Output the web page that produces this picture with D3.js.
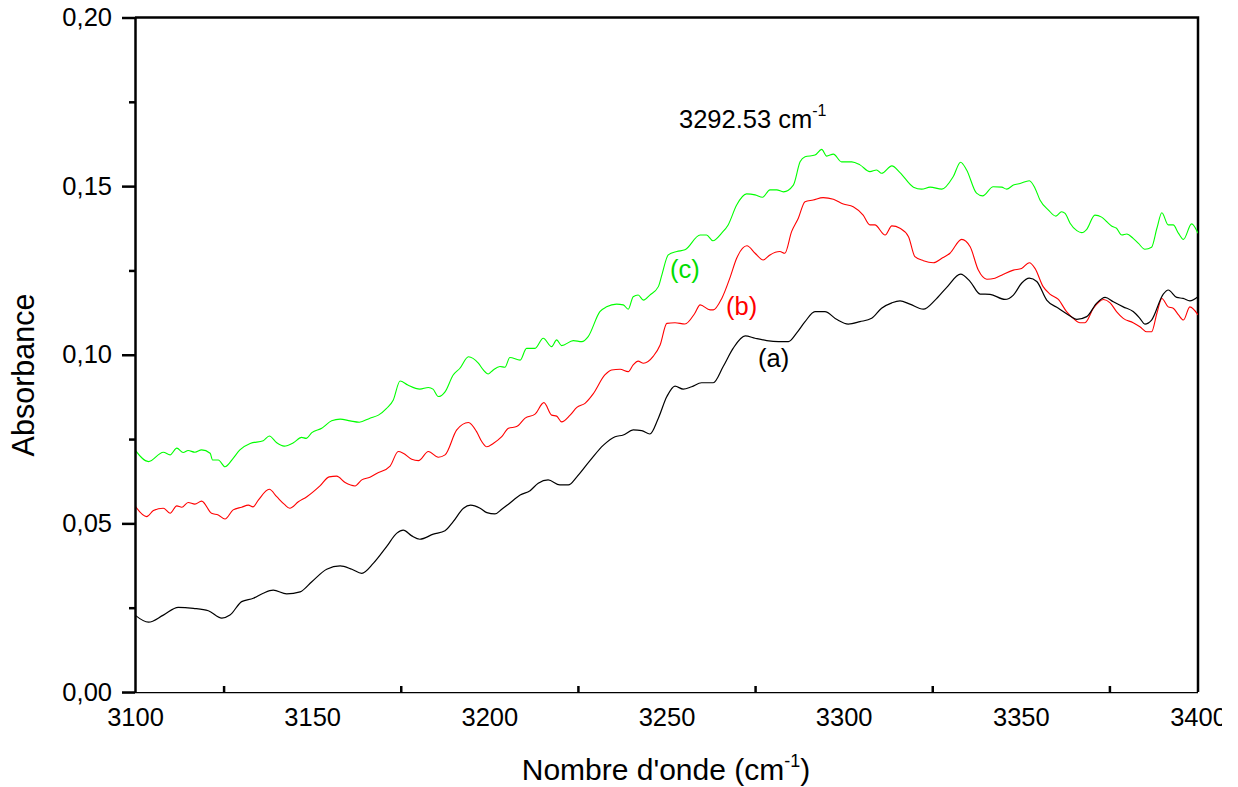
<!DOCTYPE html>
<html>
<head>
<meta charset="utf-8">
<script src="https://cdn.jsdelivr.net/npm/d3@7"></script>
<style>
  html, body { margin: 0; padding: 0; background: #fff; }
  svg { display: block; font-family: "Liberation Sans", Arial, sans-serif; }
</style>
</head>
<body>
<svg id="chart" width="1238" height="787"></svg>
<script>
// ---- Data ----
const xTicks = [3100, 3150, 3200, 3250, 3300, 3350, 3400];
const yTicks = [0, 0.05, 0.10, 0.15, 0.20];
const yTickLabels = ["0,00", "0,05", "0,10", "0,15", "0,20"];

// (a) black
const waveA = [3100.0,3103.8,3108.0,3112.2,3116.5,3120.7,3124.5,3126.8,3130.1,3133.4,3136.2,3139.0,3142.8,3146.6,3149.9,3154.1,3157.9,3161.2,3164.0,3167.3,3171.0,3173.9,3175.7,3178.1,3180.4,3184.2,3187.5,3189.8,3192.7,3194.7,3197.4,3199.3,3201.6,3203.5,3205.4,3208.7,3211.5,3213.8,3216.6,3219.9,3222.3,3224.7,3228.4,3232.2,3235.5,3237.8,3240.6,3243.0,3245.3,3247.7,3250.1,3252.4,3254.7,3257.1,3259.9,3263.2,3266.0,3268.8,3272.2,3275.0,3278.3,3281.6,3284.4,3286.7,3289.1,3291.9,3294.7,3298.0,3301.3,3304.6,3307.9,3310.7,3313.6,3315.9,3318.7,3322.5,3325.8,3329.1,3333.0,3335.7,3338.5,3341.3,3345.5,3347.9,3350.2,3352.4,3354.5,3357.3,3360.6,3363.9,3365.8,3368.6,3371.4,3373.8,3376.1,3378.9,3381.7,3383.6,3385.0,3386.9,3390.2,3391.6,3394.0,3395.8,3397.7,3400.0];
const absA = [0.0228,0.0207,0.0228,0.0251,0.0248,0.0241,0.0219,0.0228,0.0268,0.0278,0.0293,0.0302,0.0291,0.0297,0.0327,0.0364,0.0374,0.0364,0.0352,0.0382,0.0431,0.0471,0.0480,0.0463,0.0453,0.0468,0.0478,0.0505,0.0545,0.0554,0.0545,0.0532,0.0528,0.0542,0.0557,0.0584,0.0597,0.0619,0.0629,0.0614,0.0614,0.0638,0.0686,0.0732,0.0757,0.0762,0.0777,0.0775,0.0765,0.0812,0.0876,0.0907,0.0898,0.0905,0.0917,0.0917,0.0965,0.1019,0.1056,0.1049,0.1042,0.1039,0.1039,0.1064,0.1098,0.1128,0.1128,0.1105,0.1091,0.1098,0.1108,0.1138,0.1154,0.1160,0.1150,0.1135,0.1162,0.1200,0.1239,0.1217,0.1180,0.1179,0.1164,0.1177,0.1212,0.1227,0.1217,0.1162,0.1138,0.1115,0.1105,0.1113,0.1153,0.1170,0.1157,0.1142,0.1128,0.1108,0.1091,0.1103,0.1180,0.1192,0.1170,0.1167,0.1160,0.1172];

// (b) red
const waveB = [3100.0,3103.3,3105.2,3108.0,3109.9,3111.8,3113.2,3115.0,3116.9,3118.8,3121.6,3123.5,3125.4,3127.7,3130.1,3132.0,3133.3,3134.8,3137.9,3140.0,3142.1,3143.7,3146.1,3148.5,3152.2,3154.8,3156.9,3159.3,3162.1,3164.0,3166.3,3168.2,3172.0,3174.3,3175.7,3178.1,3180.0,3182.8,3185.6,3187.5,3190.8,3194.1,3196.4,3197.9,3199.3,3201.1,3203.5,3205.4,3207.7,3210.1,3212.9,3215.4,3217.6,3219.0,3220.4,3222.8,3224.7,3227.0,3229.3,3232.6,3234.5,3236.9,3239.2,3240.6,3242.0,3243.5,3246.3,3248.2,3250.1,3252.4,3255.2,3258.0,3259.5,3262.3,3263.2,3265.6,3268.0,3269.8,3272.7,3275.0,3277.3,3279.2,3282.0,3283.4,3285.3,3287.2,3289.1,3291.4,3294.2,3297.1,3299.9,3302.7,3305.5,3307.4,3308.8,3311.7,3313.6,3315.9,3318.3,3320.1,3322.5,3325.3,3327.7,3330.0,3333.3,3335.7,3338.0,3340.4,3342.7,3345.1,3347.9,3350.2,3352.4,3354.0,3356.3,3358.2,3360.6,3362.9,3364.8,3366.7,3368.1,3370.5,3373.3,3375.2,3377.0,3378.9,3381.7,3383.6,3385.5,3386.9,3388.4,3389.8,3391.6,3393.0,3394.5,3395.9,3397.7,3400.0];
const absB = [0.0552,0.0520,0.0538,0.0545,0.0530,0.0552,0.0548,0.0562,0.0557,0.0566,0.0530,0.0525,0.0513,0.0540,0.0548,0.0554,0.0549,0.0569,0.0601,0.0579,0.0557,0.0545,0.0564,0.0579,0.0611,0.0638,0.0640,0.0621,0.0611,0.0629,0.0637,0.0648,0.0670,0.0713,0.0708,0.0690,0.0686,0.0713,0.0696,0.0703,0.0777,0.0799,0.0772,0.0742,0.0727,0.0737,0.0757,0.0782,0.0787,0.0812,0.0824,0.0858,0.0821,0.0818,0.0801,0.0821,0.0844,0.0856,0.0884,0.0940,0.0955,0.0957,0.0950,0.0970,0.0981,0.0975,0.0996,0.1029,0.1093,0.1095,0.1091,0.1123,0.1148,0.1133,0.1133,0.1167,0.1231,0.1286,0.1323,0.1301,0.1281,0.1296,0.1306,0.1301,0.1365,0.1405,0.1454,0.1459,0.1466,0.1461,0.1447,0.1439,0.1414,0.1385,0.1385,0.1355,0.1382,0.1375,0.1350,0.1291,0.1279,0.1273,0.1286,0.1301,0.1342,0.1320,0.1251,0.1224,0.1227,0.1239,0.1251,0.1256,0.1273,0.1256,0.1202,0.1180,0.1164,0.1128,0.1108,0.1095,0.1095,0.1138,0.1164,0.1154,0.1128,0.1108,0.1095,0.1083,0.1068,0.1068,0.1123,0.1167,0.1142,0.1138,0.1118,0.1103,0.1142,0.1118];

// (c) green
const waveC = [3100.0,3103.8,3108.0,3109.9,3111.8,3113.6,3115.0,3116.9,3118.8,3121.2,3121.9,3123.5,3125.4,3127.7,3129.6,3132.5,3136.2,3137.9,3140.0,3142.1,3144.7,3147.0,3148.3,3149.9,3152.7,3155.5,3157.9,3160.7,3163.3,3166.3,3168.7,3171.0,3172.9,3174.8,3177.0,3180.4,3182.8,3184.1,3185.6,3187.5,3189.8,3191.7,3194.1,3196.9,3198.3,3199.7,3201.1,3203.0,3204.4,3205.8,3208.7,3210.5,3212.9,3215.2,3217.6,3219.0,3220.4,3223.7,3226.1,3227.9,3231.2,3233.1,3235.9,3237.8,3239.2,3240.6,3242.0,3243.5,3245.3,3247.7,3248.7,3250.5,3252.9,3255.2,3259.5,3261.3,3263.1,3265.5,3267.4,3269.8,3272.6,3275.0,3277.1,3279.2,3281.1,3283.0,3285.8,3287.7,3289.1,3291.9,3293.8,3295.2,3297.1,3299.4,3302.3,3304.6,3307.4,3309.3,3310.7,3313.6,3315.9,3319.7,3322.0,3324.4,3327.7,3330.9,3333.0,3334.7,3337.5,3339.2,3342.2,3344.6,3346.0,3347.9,3349.8,3352.4,3354.0,3355.4,3357.8,3359.9,3361.5,3362.5,3363.9,3365.8,3367.2,3368.6,3370.9,3372.8,3374.2,3375.6,3377.0,3378.5,3379.9,3381.7,3383.2,3385.0,3386.9,3388.4,3389.8,3391.6,3393.0,3394.5,3395.9,3398.2,3400.0];
const absC = [0.0718,0.0683,0.0711,0.0703,0.0723,0.0710,0.0716,0.0711,0.0718,0.0708,0.0688,0.0688,0.0668,0.0693,0.0718,0.0737,0.0745,0.0759,0.0739,0.0729,0.0739,0.0755,0.0752,0.0769,0.0782,0.0804,0.0809,0.0804,0.0800,0.0812,0.0821,0.0841,0.0866,0.0922,0.0910,0.0898,0.0903,0.0898,0.0876,0.0890,0.0940,0.0960,0.0994,0.0975,0.0955,0.0943,0.0955,0.0965,0.0963,0.0992,0.0984,0.1019,0.1019,0.1049,0.1024,0.1044,0.1027,0.1042,0.1039,0.1054,0.1128,0.1142,0.1150,0.1148,0.1135,0.1172,0.1177,0.1162,0.1177,0.1202,0.1237,0.1296,0.1306,0.1311,0.1355,0.1355,0.1338,0.1360,0.1385,0.1444,0.1477,0.1474,0.1467,0.1489,0.1489,0.1483,0.1503,0.1572,0.1587,0.1592,0.1609,0.1589,0.1595,0.1572,0.1572,0.1563,0.1543,0.1548,0.1538,0.1560,0.1540,0.1497,0.1491,0.1497,0.1491,0.1528,0.1571,0.1548,0.1479,0.1471,0.1498,0.1497,0.1491,0.1503,0.1508,0.1516,0.1494,0.1459,0.1429,0.1411,0.1424,0.1419,0.1390,0.1368,0.1362,0.1372,0.1414,0.1408,0.1395,0.1382,0.1375,0.1355,0.1358,0.1345,0.1330,0.1313,0.1319,0.1375,0.1421,0.1385,0.1385,0.1360,0.1342,0.1388,0.1360];

const seriesNames = ["(a)", "(b)", "(c)"];
const seriesColors = ["#000000", "#ff0000", "#00ff00"];
const labelColors = ["#000000", "#ff0000", "#00dd00"];

// ---- Layout ----
const svg = d3.select("#chart");
const mLeft = 135, mRight = 1198, mTop = 17.5, mBottom = 692;
const x = d3.scaleLinear().domain([3100, 3400]).range([mLeft, mRight]);
const y = d3.scaleLinear().domain([0, 0.20]).range([mBottom, mTop]);
const font = "'Liberation Sans', Arial, sans-serif";

svg.append("clipPath").attr("id", "plotClip")
  .append("rect").attr("x", mLeft).attr("y", mTop).attr("width", mRight - mLeft).attr("height", mBottom - mTop);
svg.append("clipPath").attr("id", "labelClip")
  .append("rect").attr("x", 0).attr("y", 0).attr("width", 1222).attr("height", 787);

// frame (top and right)
svg.append("path")
  .attr("d", `M${mLeft},${mTop}H${mRight}V${mBottom}`)
  .attr("fill", "none").attr("stroke", "#000").attr("stroke-width", 2.5);

// curves
const series = [
  d3.zip(waveA, absA),
  d3.zip(waveB, absB),
  d3.zip(waveC, absC)
];
const line = d3.line().x(d => x(d[0])).y(d => y(d[1])).curve(d3.curveMonotoneX);
const gLines = svg.append("g").attr("clip-path", "url(#plotClip)");
[2, 1, 0].forEach(i => {
  gLines.append("path").datum(series[i])
    .attr("d", line)
    .attr("fill", "none")
    .attr("stroke", seriesColors[i])
    .attr("stroke-width", i === 0 ? 1.2 : 1.1)
    .attr("stroke-linejoin", "round");
});

// x axis: inward ticks
const xMinor = d3.range(3125, 3400, 50);
svg.append("g").attr("transform", `translate(0,${mBottom})`)
  .call(d3.axisBottom(x).tickValues(xMinor).tickSize(-6).tickSizeOuter(0).tickFormat(""))
  .call(g => g.select(".domain").remove())
  .call(g => g.selectAll("line").attr("stroke-width", 2.5));
const gx = svg.append("g").attr("transform", `translate(0,${mBottom})`).attr("clip-path", "url(#labelClip)")
  .call(d3.axisBottom(x).tickValues(xTicks).tickSize(-12).tickSizeOuter(0).tickPadding(16).tickFormat(d3.format("d")));
gx.select(".domain").attr("stroke-width", 2.5).attr("d", `M${mLeft - 13},0H${mRight}`);
gx.selectAll("line").attr("stroke-width", 2.5);
gx.selectAll("text").attr("font-size", 25.5).attr("font-family", font).attr("fill", "#000");

// y axis: outward ticks
const yMinor = d3.range(0.025, 0.2, 0.05);
svg.append("g").attr("transform", `translate(${mLeft},0)`)
  .call(d3.axisLeft(y).tickValues(yMinor).tickSize(6).tickSizeOuter(0).tickFormat(""))
  .call(g => g.select(".domain").remove())
  .call(g => g.selectAll("line").attr("stroke-width", 2.5));
const gy = svg.append("g").attr("transform", `translate(${mLeft},0)`)
  .call(d3.axisLeft(y).tickValues(yTicks).tickSize(13).tickSizeOuter(0).tickPadding(10)
    .tickFormat((d, i) => yTickLabels[i]));
gy.select(".domain").attr("stroke-width", 2.5);
gy.selectAll("line").attr("stroke-width", 2.5);
gy.selectAll("text").attr("font-size", 25.5).attr("font-family", font).attr("fill", "#000");

// axis titles
const xt = svg.append("text")
  .attr("x", 666).attr("y", 780).attr("text-anchor", "middle")
  .attr("font-size", 30).attr("font-family", font).attr("fill", "#000");
xt.append("tspan").text("Nombre d'onde (cm");
xt.append("tspan").attr("font-size", 18).attr("dy", -13).text("-1");
xt.append("tspan").attr("dy", 13).text(")");

svg.append("text")
  .attr("transform", "translate(34,375) rotate(-90)")
  .attr("text-anchor", "middle")
  .attr("font-size", 30.5).attr("font-family", font).attr("fill", "#000")
  .text("Absorbance");

// peak annotation
const ann = svg.append("text")
  .attr("x", 679).attr("y", 128)
  .attr("font-size", 25.5).attr("font-family", font).attr("fill", "#000");
ann.append("tspan").text("3292.53 cm");
ann.append("tspan").attr("font-size", 16).attr("dy", -12).text("-1");

// series labels
const labelPos = [[758, 366.5], [726, 314.5], [670, 278]];
seriesNames.forEach((n, i) => {
  svg.append("text")
    .attr("x", labelPos[i][0]).attr("y", labelPos[i][1])
    .attr("font-size", 25.5).attr("font-family", font)
    .attr("fill", labelColors[i])
    .text(n);
});
</script>
</body>
</html>
